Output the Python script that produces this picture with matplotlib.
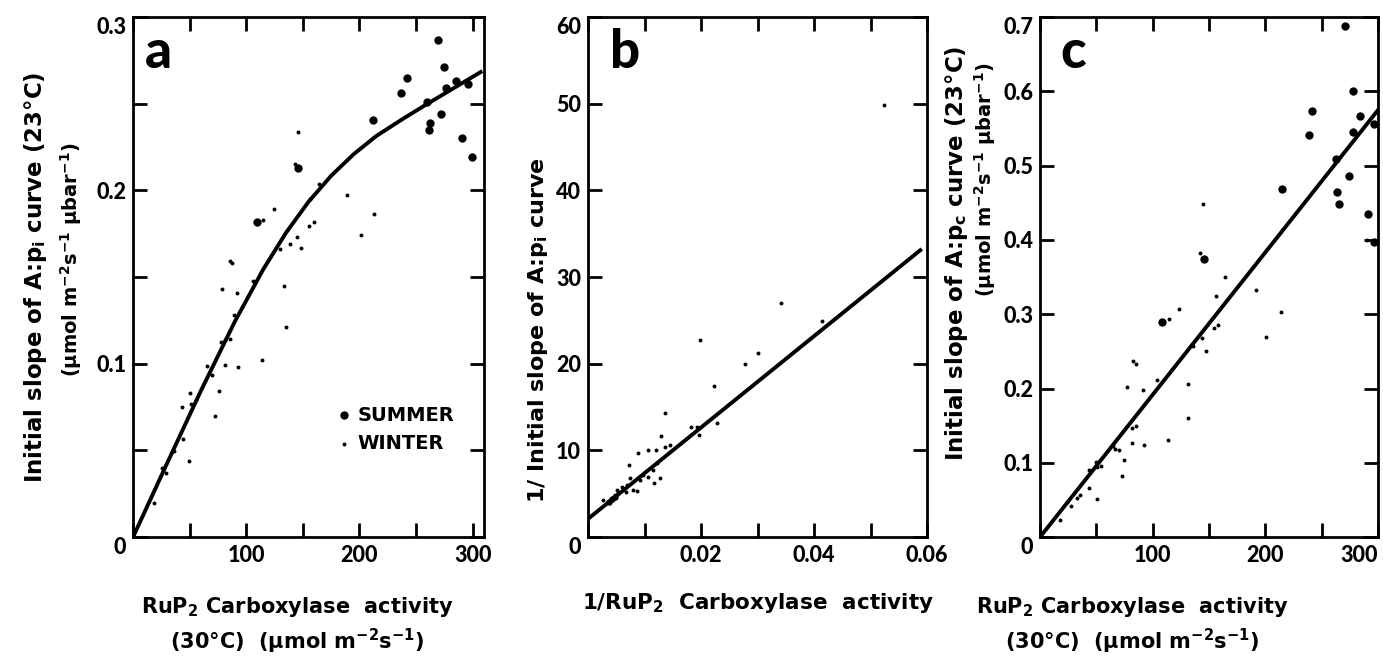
import numpy as np
import matplotlib
matplotlib.use("Agg")
import matplotlib.pyplot as plt

# ---------------------------------------------------------------- data

# panel a: initial slope of A:pi (23C) vs RuP2 carboxylase activity (30C)
A_SUMMER_X = [269.6, 275, 242, 237, 285, 296, 276.7, 260, 272, 262, 261, 290.5, 299, 212, 145.7, 109.4]
A_SUMMER_Y = [0.2867, 0.271, 0.2646, 0.2565, 0.263, 0.2617, 0.259, 0.251, 0.2443, 0.239, 0.2347,
              0.2305, 0.2195, 0.2407, 0.2131, 0.1817]
A_WINTER_X = [145.7, 142.7, 164, 156, 189, 124.5, 114.4, 159.6, 155.8, 212.7, 201, 145, 138.6, 148.7,
              130, 86, 87, 105.6, 78.5, 92, 133, 135, 85.2, 81.4, 77.6, 113.6, 81.4, 92.6, 65.2, 69.6,
              76, 72.8, 50.4, 55.5, 42.8, 51.6, 44.2, 36, 49.8, 25.4, 29.5, 18.6, 89.6]
A_WINTER_Y = [0.234, 0.2154, 0.204, 0.195, 0.1973, 0.1892, 0.183, 0.1817, 0.1794, 0.1867, 0.1742,
              0.1732, 0.169, 0.1669, 0.1663, 0.1595, 0.158, 0.1476, 0.1432, 0.1406, 0.1447, 0.1214,
              0.1143, 0.1135, 0.1123, 0.1023, 0.0992, 0.098, 0.099, 0.0936, 0.084, 0.0701, 0.083,
              0.0792, 0.075, 0.0769, 0.0568, 0.0497, 0.0441, 0.0397, 0.0372, 0.0198, 0.128]
A_CURVE_X = [0, 30, 60, 90, 115, 135, 155, 175, 195, 215, 240, 260, 280, 307]
A_CURVE_Y = [0, 0.0425, 0.0845, 0.1245, 0.1545, 0.1755, 0.1935, 0.2085, 0.2210, 0.2315, 0.2420,
             0.2500, 0.2578, 0.2683]

# panel b: double reciprocal
B_SUMMER_X = [0.00378, 0.0042, 0.0047]
B_SUMMER_Y = [4.07, 4.35, 4.6]
B_WINTER_X = [0.0342, 0.0414, 0.01976, 0.0278, 0.0301, 0.02236, 0.0229, 0.0182, 0.0192, 0.0197,
              0.01363, 0.01286, 0.01369, 0.0089, 0.01068, 0.01209, 0.0073, 0.01216, 0.01145,
              0.01068, 0.01274, 0.01174, 0.00743, 0.00685, 0.00673, 0.00873, 0.0079, 0.00537,
              0.00478, 0.00507, 0.006, 0.0027, 0.0098, 0.0092, 0.0145, 0.0523]
B_WINTER_Y = [26.97, 24.9, 22.7, 20.0, 21.2, 17.4, 13.15, 12.7, 12.7, 11.8, 14.35, 11.7, 10.4, 9.7,
              10.0, 10.1, 8.3, 8.5, 7.7, 6.96, 6.85, 6.27, 6.77, 6.0, 5.23, 5.35, 5.4, 5.23, 4.85,
              5.42, 5.8, 4.27, 7.15, 6.6, 10.6, 49.9]
B_LINE_X = [0, 0.0588]
B_LINE_Y = [2.1, 33.1]

# panel c: initial slope of A:pc vs RuP2 carboxylase activity
C_SUMMER_X = [270.6, 277.5, 241.3, 238.7, 284, 278, 296.4, 262.6, 274.2, 263.3, 265.3, 215, 291.3,
              296.4, 145.8, 108.3]
C_SUMMER_Y = [0.688, 0.601, 0.574, 0.5415, 0.567, 0.5447, 0.556, 0.5088, 0.4863, 0.4648, 0.448,
              0.4688, 0.4347, 0.3966, 0.374, 0.289]
C_WINTER_X = [145, 142.2, 164.4, 191.4, 156.5, 123, 114.5, 213.9, 200.5, 154.7, 158.2, 144, 136,
              147, 131.6, 131.6, 113.3, 103.5, 82.8, 85.2, 77.2, 91.7, 81.3, 85.2, 81.3, 92.3, 66.8,
              70.4, 64.5, 74.8, 73, 49.7, 54.4, 50.3, 50.3, 43.7, 43.7, 35.5, 32.5, 27.5, 23.7, 18,
              290.4]
C_WINTER_Y = [0.448, 0.383, 0.350, 0.332, 0.3244, 0.3064, 0.293, 0.3033, 0.2688, 0.2809, 0.2853,
              0.2683, 0.2575, 0.2508, 0.2055, 0.1597, 0.1306, 0.2113, 0.2373, 0.2328, 0.2023,
              0.1978, 0.1463, 0.1498, 0.1261, 0.1242, 0.118, 0.1171, 0.1229, 0.1032, 0.0817,
              0.1014, 0.0956, 0.0946, 0.0507, 0.0655, 0.0902, 0.0565, 0.0529, 0.0417, 0.0475,
              0.0229, 0.4]
C_LINE_X = [0, 300]
C_LINE_Y = [0, 0.575]

# ticks
ACT_TICKS = [0, 50, 100, 150, 200, 250, 300]
ACT_TICKLABELS = ["", "", "100", "", "200", "", "300"]
A_YTICKS = [0, 0.05, 0.1, 0.15, 0.2, 0.25, 0.3]
A_YTICKLABELS = ["0", "", "0.1", "", "0.2", "", "0.3"]
B_XTICKS = [0, 0.01, 0.02, 0.03, 0.04, 0.05, 0.06]
B_XTICKLABELS = ["", "", "0.02", "", "0.04", "", "0.06"]
B_YTICKS = [0, 10, 20, 30, 40, 50, 60]
B_YTICKLABELS = ["0", "10", "20", "30", "40", "50", "60"]
C_YTICKS = [0, 0.1, 0.2, 0.3, 0.4, 0.5, 0.6, 0.7]
C_YTICKLABELS = ["0", "0.1", "0.2", "0.3", "0.4", "0.5", "0.6", "0.7"]

plt.rcParams.update({
    "font.family": "DejaVu Sans", "font.weight": "bold", "font.size": 15,
    "mathtext.default": "regular", "axes.linewidth": 2.0,
    "xtick.direction": "in", "ytick.direction": "in", "xtick.top": True, "ytick.right": True,
    "xtick.major.size": 10, "ytick.major.size": 10, "xtick.major.width": 2, "ytick.major.width": 2,
    "xtick.major.pad": 6, "ytick.major.pad": 5,
})

TICK_FONT = {"family": ["Lato", "DejaVu Sans"], "weight": "black", "size": 15.5}
BIG = 36   # marker area, summer
SMALL = 8  # marker area, winter
LW = 2.8


def style_axes(ax, xticks, xlabels, yticks, ylabels, xlim, ylim):
    ax.set_xlim(*xlim)
    ax.set_ylim(*ylim)
    ax.set_xticks(xticks)
    ax.set_xticklabels(xlabels, fontdict=TICK_FONT)
    ax.set_yticks(yticks)
    ax.set_yticklabels(ylabels, fontdict=TICK_FONT)
    ylabs = ax.get_yticklabels()
    ylabs[0].set_verticalalignment("top")     # the shared "0" sits below the corner
    ylabs[-1].set_verticalalignment("top")    # top label tucked under the frame


def panel_letter(ax, letter, x):
    ax.text(x, 0.902, letter, transform=ax.transAxes, fontsize=38, fontweight="black",
            family=["Lato", "DejaVu Sans"], ha="left", va="baseline")


def label(ax, x, y, s, rot=0, size=15):
    ax.text(x, y, s, transform=ax.transAxes, rotation=rot, ha="center", va="center",
            fontsize=size, fontweight="bold")


def main():
    fig = plt.figure(figsize=(13.83, 6.59), dpi=100)
    ax_a = fig.add_axes([0.0962, 0.185, 0.2538, 0.789])
    ax_b = fig.add_axes([0.4252, 0.185, 0.2451, 0.789])
    ax_c = fig.add_axes([0.752, 0.185, 0.2444, 0.789])

    # ---- a
    ax_a.plot(A_CURVE_X, A_CURVE_Y, color="black", lw=LW, solid_joinstyle="round")
    ax_a.scatter(A_SUMMER_X, A_SUMMER_Y, s=BIG, color="black", lw=0, label="SUMMER")
    ax_a.scatter(A_WINTER_X, A_WINTER_Y, s=SMALL, color="black", lw=0, label="WINTER")
    style_axes(ax_a, ACT_TICKS, ACT_TICKLABELS, A_YTICKS, A_YTICKLABELS, (0, 310), (0, 0.3))
    panel_letter(ax_a, "a", 0.034)
    ax_a.legend(loc="center left", bbox_to_anchor=(0.55, 0.207), frameon=False, scatterpoints=1,
                handletextpad=0.2, labelspacing=0.5, borderaxespad=0, handlelength=1.0,
                prop={"weight": "bold", "size": 14})
    label(ax_a, -0.279, 0.5, r"Initial slope of A:p$_i$ curve (23°C)", rot=90, size=16.5)
    label(ax_a, -0.177, 0.533, r"(μmol m$^{-2}$s$^{-1}$ μbar$^{-1}$)", rot=90, size=14)
    label(ax_a, 0.467, -0.135, r"RuP$_2$ Carboxylase  activity")
    label(ax_a, 0.467, -0.2, r"(30°C)  (μmol m$^{-2}$s$^{-1}$)")

    # ---- b
    ax_b.plot(B_LINE_X, B_LINE_Y, color="black", lw=LW)
    ax_b.scatter(B_SUMMER_X, B_SUMMER_Y, s=BIG * 0.6, color="black", lw=0)
    ax_b.scatter(B_WINTER_X, B_WINTER_Y, s=SMALL, color="black", lw=0)
    style_axes(ax_b, B_XTICKS, B_XTICKLABELS, B_YTICKS, B_YTICKLABELS, (0, 0.06), (0, 60))
    panel_letter(ax_b, "b", 0.065)
    label(ax_b, -0.147, 0.398, r"1/ Initial slope of A:p$_i$ curve", rot=90, size=16)
    label(ax_b, 0.5, -0.127, r"1/RuP$_2$  Carboxylase  activity", size=15.5)

    # ---- c
    ax_c.plot(C_LINE_X, C_LINE_Y, color="black", lw=LW)
    ax_c.scatter(C_SUMMER_X, C_SUMMER_Y, s=BIG, color="black", lw=0, clip_on=False)
    ax_c.scatter(C_WINTER_X, C_WINTER_Y, s=SMALL, color="black", lw=0)
    style_axes(ax_c, ACT_TICKS, ACT_TICKLABELS, C_YTICKS, C_YTICKLABELS, (0, 300), (0, 0.7))
    ax_c.get_xticklabels()[-1].set_horizontalalignment("right")
    panel_letter(ax_c, "c", 0.059)
    label(ax_c, -0.246, 0.546, r"Initial slope of A:p$_c$ curve (23°C)", rot=90, size=16.5)
    label(ax_c, -0.164, 0.687, r"(μmol m$^{-2}$s$^{-1}$ μbar$^{-1}$)", rot=90, size=14)
    label(ax_c, 0.272, -0.135, r"RuP$_2$ Carboxylase  activity")
    label(ax_c, 0.272, -0.2, r"(30°C)  (μmol m$^{-2}$s$^{-1}$)")

    fig.savefig("out.png", dpi=100)
    plt.close(fig)


if __name__ == "__main__":
    main()
